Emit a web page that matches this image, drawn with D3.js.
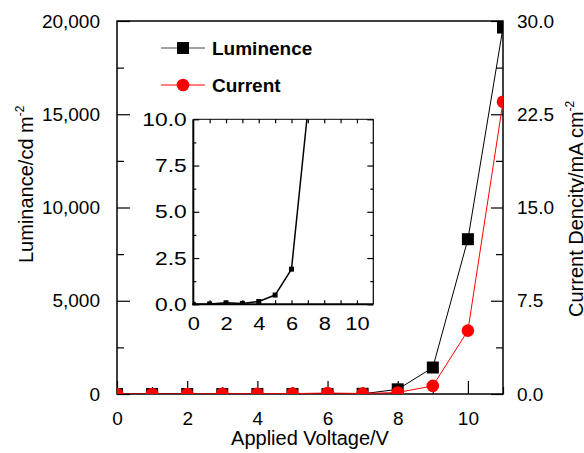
<!DOCTYPE html>
<html>
<head>
<meta charset="utf-8">
<script src="https://d3js.org/d3.v7.min.js"></script>
<style>
    body { margin: 0; background: #fff; }
    text { font-family: "Liberation Sans", Arial, sans-serif; fill: #000; }
</style>
</head>
<body>
<script>
    // data
    var voltage = [0, 1, 2, 3, 4, 5, 6, 7, 8, 9, 10, 11];
    var luminance = [0, 0.02, 0.08, 0.05, 0.15, 0.5, 1.9, 10.5, 250, 1420, 8300, 19650];
    var current = [0, 0, 0, 0.02, 0.02, 0.03, 0.08, 0.04, 0.12, 0.65, 5.1, 23.5];

    var lumTicks = [0, 5000, 10000, 15000, 20000];
    var lumMinor = [2500, 7500, 12500, 17500];
    var curTicks = [0, 7.5, 15, 22.5, 30];
    var curMinor = [3.75, 11.25, 18.75, 26.25];
    var voltTicks = [0, 2, 4, 6, 8, 10];
    var voltMinor = [1, 3, 5, 7, 9, 11];
    var insetYTicks = [0, 2.5, 5, 7.5, 10];
    var insetYMinor = [1.25, 3.75, 6.25, 8.75];
    var insetXTicks = [1, 2, 3, 4, 5, 6, 7, 8, 9, 10];
    var insetXLabels = [0, 2, 4, 6, 8, 10];

    var svg = d3.select("body").append("svg")
        .attr("width", 584)
        .attr("height", 453);

    var x = d3.scaleLinear().domain([0, 11]).range([117, 503]);
    var yL = d3.scaleLinear().domain([0, 20000]).range([394, 21]);
    var yR = d3.scaleLinear().domain([0, 30]).range([394, 21]);

    function styleAxis(g, size) {
        g.attr("font-size", size).attr("font-family", null);
        g.select(".domain").remove();
        g.selectAll("line").attr("stroke", "#000").attr("stroke-width", 1.2);
    }

    // main axes
    svg.append("g").attr("transform", "translate(117,0)")
        .call(d3.axisLeft(yL).tickValues(lumTicks).tickSizeInner(-13).tickSizeOuter(0).tickPadding(17).tickFormat(d3.format(",")))
        .call(styleAxis, 19);
    svg.append("g").attr("transform", "translate(117,0)")
        .call(d3.axisLeft(yL).tickValues(lumMinor).tickSizeInner(-7).tickSizeOuter(0).tickFormat(""))
        .call(styleAxis, 19);

    svg.append("g").attr("transform", "translate(503,0)")
        .call(d3.axisRight(yR).tickValues(curTicks).tickSizeInner(-12).tickSizeOuter(0).tickPadding(14).tickFormat(d3.format(".1f")))
        .call(styleAxis, 19);
    svg.append("g").attr("transform", "translate(503,0)")
        .call(d3.axisRight(yR).tickValues(curMinor).tickSizeInner(-7).tickSizeOuter(0).tickFormat(""))
        .call(styleAxis, 19);

    svg.append("g").attr("transform", "translate(0,394)")
        .call(d3.axisBottom(x).tickValues(voltTicks).tickSizeInner(-13).tickSizeOuter(0).tickPadding(17.5))
        .call(styleAxis, 19);
    svg.append("g").attr("transform", "translate(0,394)")
        .call(d3.axisBottom(x).tickValues(voltMinor).tickSizeInner(-7).tickSizeOuter(0).tickFormat(""))
        .call(styleAxis, 19);

    svg.append("rect")
        .attr("x", 117).attr("y", 21)
        .attr("width", 386).attr("height", 373)
        .attr("fill", "none")
        .attr("stroke", "#000")
        .attr("stroke-width", 1.5);

    // axis titles
    svg.append("text")
        .attr("x", 310).attr("y", 445)
        .attr("text-anchor", "middle")
        .attr("font-size", 20)
        .text("Applied Voltage/V");

    var lt = svg.append("text")
        .attr("transform", "translate(33,263) rotate(-90)")
        .attr("font-size", 20);
    lt.append("tspan").text("Luminance/cd m");
    lt.append("tspan").attr("font-size", 12).attr("dy", -9).text("-2");

    var rt = svg.append("text")
        .attr("transform", "translate(583,317) rotate(-90)")
        .attr("font-size", 20);
    rt.append("tspan").text("Current Dencity/mA cm");
    rt.append("tspan").attr("font-size", 12).attr("dy", -9).text("-2");

    // main data, clipped to the frame
    svg.append("clipPath").attr("id", "mainclip")
        .append("rect").attr("x", 117).attr("y", 21).attr("width", 386).attr("height", 373);
    var plot = svg.append("g").attr("clip-path", "url(#mainclip)");

    var lumLine = d3.line().x(function(d, i) { return x(voltage[i]); }).y(function(d) { return yL(d); });
    var curLine = d3.line().x(function(d, i) { return x(voltage[i]); }).y(function(d) { return yR(d); });

    plot.append("path").datum(luminance)
        .attr("d", lumLine).attr("fill", "none").attr("stroke", "#000").attr("stroke-width", 1);
    plot.selectAll(".sq").data(luminance).enter().append("rect")
        .attr("x", function(d, i) { return x(voltage[i]) - 6; })
        .attr("y", function(d) { return yL(d) - 6; })
        .attr("width", 12).attr("height", 12)
        .attr("fill", "#000");

    plot.append("path").datum(current)
        .attr("d", curLine).attr("fill", "none").attr("stroke", "#ff0000").attr("stroke-width", 1);
    plot.selectAll(".dot").data(current).enter().append("circle")
        .attr("cx", function(d, i) { return x(voltage[i]); })
        .attr("cy", function(d) { return yR(d); })
        .attr("r", 6.3)
        .attr("fill", "#ff0000");

    // inset
    var ix = d3.scaleLinear().domain([0, 11]).range([193.3, 373.3]);
    var iy = d3.scaleLinear().domain([0, 10]).range([304.3, 119.3]);

    svg.append("rect")
        .attr("x", 193.3).attr("y", 119.3)
        .attr("width", 180).attr("height", 185)
        .attr("fill", "#fff");

    svg.append("g").attr("transform", "translate(193.3,0)")
        .call(d3.axisLeft(iy).tickValues(insetYTicks).tickSizeInner(-6).tickSizeOuter(0).tickPadding(5.5).tickFormat(d3.format(".1f")))
        .call(styleAxis, 19)
        .selectAll("text").attr("transform", "scale(1.2,1)");
    svg.append("g").attr("transform", "translate(193.3,0)")
        .call(d3.axisLeft(iy).tickValues(insetYMinor).tickSizeInner(-3).tickSizeOuter(0).tickFormat(""))
        .call(styleAxis, 19);
    svg.append("g").attr("transform", "translate(373.3,0)")
        .call(d3.axisRight(iy).tickValues(insetYTicks).tickSizeInner(-6).tickSizeOuter(0).tickFormat(""))
        .call(styleAxis, 19);
    svg.append("g").attr("transform", "translate(373.3,0)")
        .call(d3.axisRight(iy).tickValues(insetYMinor).tickSizeInner(-3).tickSizeOuter(0).tickFormat(""))
        .call(styleAxis, 19);
    svg.append("g").attr("transform", "translate(0,304.3)")
        .call(d3.axisBottom(ix).tickValues(insetXTicks).tickSizeInner(-4).tickSizeOuter(0).tickFormat(""))
        .call(styleAxis, 19);
    svg.append("g").attr("transform", "translate(0,304.3)")
        .call(d3.axisBottom(ix).tickValues(insetXLabels).tickSizeInner(0).tickSizeOuter(0).tickPadding(12))
        .call(styleAxis, 19)
        .selectAll("text").attr("transform", "scale(1.15,1)");
    svg.append("g").attr("transform", "translate(0,119.3)")
        .call(d3.axisTop(ix).tickValues(insetXTicks).tickSizeInner(-4).tickSizeOuter(0).tickFormat(""))
        .call(styleAxis, 19);

    svg.append("clipPath").attr("id", "insetclip")
        .append("rect").attr("x", 193.3).attr("y", 119.3).attr("width", 180).attr("height", 185);
    var inset = svg.append("g").attr("clip-path", "url(#insetclip)");

    var insetLine = d3.line().x(function(d, i) { return ix(voltage[i]); }).y(function(d) { return iy(d); });
    inset.append("path").datum(luminance)
        .attr("d", insetLine).attr("fill", "none").attr("stroke", "#000").attr("stroke-width", 1.5);
    inset.selectAll(".isq").data(luminance).enter().append("rect")
        .attr("x", function(d, i) { return ix(voltage[i]) - 2.5; })
        .attr("y", function(d) { return iy(d) - 2.5; })
        .attr("width", 5).attr("height", 5)
        .attr("fill", "#000");

    // inset frame: left and bottom heavier
    svg.append("line").attr("x1", 193.3).attr("x2", 193.3).attr("y1", 119.3).attr("y2", 305.3)
        .attr("stroke", "#000").attr("stroke-width", 2);
    svg.append("line").attr("x1", 192.3).attr("x2", 373.3).attr("y1", 304.3).attr("y2", 304.3)
        .attr("stroke", "#000").attr("stroke-width", 2);
    svg.append("line").attr("x1", 193.3).attr("x2", 373.3).attr("y1", 119.3).attr("y2", 119.3)
        .attr("stroke", "#000").attr("stroke-width", 1);
    svg.append("line").attr("x1", 373.3).attr("x2", 373.3).attr("y1", 119.3).attr("y2", 304.3)
        .attr("stroke", "#000").attr("stroke-width", 1.2);

    // legend
    var legend = svg.append("g");
    legend.append("line").attr("x1", 161).attr("x2", 205).attr("y1", 48).attr("y2", 48)
        .attr("stroke", "#444").attr("stroke-width", 1);
    legend.append("rect").attr("x", 177).attr("y", 42).attr("width", 12).attr("height", 12).attr("fill", "#000");
    legend.append("text").attr("x", 212).attr("y", 55)
        .attr("font-size", 19).attr("font-weight", "bold").text("Luminence");

    legend.append("line").attr("x1", 161).attr("x2", 205).attr("y1", 85).attr("y2", 85)
        .attr("stroke", "#ff0000").attr("stroke-width", 1);
    legend.append("circle").attr("cx", 183).attr("cy", 85).attr("r", 6.3).attr("fill", "#ff0000");
    legend.append("text").attr("x", 212).attr("y", 92)
        .attr("font-size", 19).attr("font-weight", "bold").text("Current");
</script>
</body>
</html>
